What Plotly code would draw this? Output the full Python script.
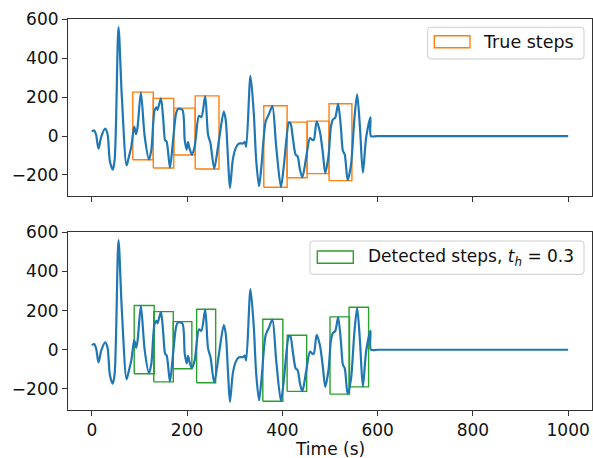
import plotly.graph_objects as go
from plotly.subplots import make_subplots

# Signal (time in s, amplitude)
time_s = [0, 5, 9, 14, 20, 28, 33, 38, 44, 48, 56, 63, 73, 78, 83, 89, 93, 96, 103, 111,
          120, 125, 132, 136, 138, 145, 150, 154, 157, 164, 170, 177, 181, 190, 195, 199,
          202, 205, 210, 216, 225, 230, 238, 244, 249, 257, 266, 277, 281, 286, 290, 296,
          302, 309, 317, 321, 324, 333, 340, 345, 351, 356, 365, 372, 379, 387, 397, 403,
          414, 417, 422, 428, 432, 437, 442, 450, 458, 463, 466, 472, 479, 485, 490, 497,
          502, 506, 511, 517, 523, 527, 531, 537, 544, 551, 557, 563, 569, 576, 585, 586,
          600, 1000]
signal = [24, 29, 7, -65, -2, 38, 10, -130, -173, -121, 560, 203, -151, -105, -53, 49, 10, 45, 224, -2,
          -120, -70, 135, 148, 135, 194, 84, -22, -28, -162, -36, 118, 140, 135, -19, -70,
          -31, -62, -94, -53, 104, 97, 205, 7, -36, -167, -36, 126, 84, -121, -267, -121,
          -62, -38, -38, -30, -55, 310, 118, -121, -258, -156, 75, 114, 154, -53, -262, -156,
          70, 67, -10, -96, -104, -173, -212, -110, -10, -20, -20, 76, 20, -87, -190, -100,
          49, 85, 95, 166, 40, -75, -95, -226, -150, 83, 214, 40, -188, -5, 97, 0,
          0, 0]

# True steps (top panel)
true_start = [86, 129, 172, 217, 361, 410, 452, 498]
true_end = [129, 172, 217, 267, 410, 452, 498, 546]
true_low = [-122, -164, -97, -169, -263, -214, -193, -229]
true_high = [226, 194, 144, 207, 156, 72, 77, 166]

# Detected steps (bottom panel)
det_start = [89, 130, 171, 220, 359, 410, 500, 540]
det_end = [131, 171, 210, 260, 401, 451, 541, 581]
det_low = [-123, -164, -97, -169, -263, -213, -227, -190]
det_high = [226, 195, 144, 207, 156, 74, 168, 217]

x_ticks = [0, 200, 400, 600, 800, 1000]
y_ticks = [-200, 0, 200, 400, 600]

true_label = "True steps"
det_label = "Detected steps, <i>t</i><sub><i>h</i></sub> = 0.3"
x_title = "Time (s)"

BLUE = "#1f77b4"
ORANGE = "#ff7f0e"
GREEN = "#2ca02c"
FONT = "DejaVu Sans"
FS = 17
TXT = "#111111"

W, H = 593, 458
ML, MR, MT, MB = 68, 1, 19, 48
PW, PH = W - ML - MR, H - MT - MB


def px(x):
    return (x - ML) / PW


def py(y):
    return (H - MB - y) / PH


def rect_path(starts, ends, lows, highs):
    xs, ys = [], []
    for s, e, lo, hi in zip(starts, ends, lows, highs):
        xs += [s, e, e, s, s, None]
        ys += [lo, lo, hi, hi, lo, None]
    return xs, ys


def rounded_box(x0, y0, x1, y1, r=3):
    rx, ry = r / PW, r / PH
    X0, X1 = px(x0), px(x1)
    Y0, Y1 = py(y1), py(y0)
    return (f"M {X0+rx},{Y0} L {X1-rx},{Y0} Q {X1},{Y0} {X1},{Y0+ry} "
            f"L {X1},{Y1-ry} Q {X1},{Y1} {X1-rx},{Y1} L {X0+rx},{Y1} "
            f"Q {X0},{Y1} {X0},{Y1-ry} L {X0},{Y0+ry} Q {X0},{Y0} {X0+rx},{Y0} Z")


fig = make_subplots(rows=2, cols=1, shared_xaxes=True, vertical_spacing=0.09)

rx_, ry_ = rect_path(true_start, true_end, true_low, true_high)
fig.add_trace(go.Scatter(x=rx_, y=ry_, mode="lines", line=dict(color=ORANGE, width=1.4),
                         showlegend=False, hoverinfo="skip"), row=1, col=1)
fig.add_trace(go.Scatter(x=time_s, y=signal, mode="lines",
                         line=dict(color=BLUE, width=2.2, shape="spline", smoothing=0.8),
                         showlegend=False), row=1, col=1)

dx_, dy_ = rect_path(det_start, det_end, det_low, det_high)
fig.add_trace(go.Scatter(x=dx_, y=dy_, mode="lines", line=dict(color=GREEN, width=1.4),
                         showlegend=False, hoverinfo="skip"), row=2, col=1)
fig.add_trace(go.Scatter(x=time_s, y=signal, mode="lines",
                         line=dict(color=BLUE, width=2.2, shape="spline", smoothing=0.8),
                         showlegend=False), row=2, col=1)

axis_common = dict(showgrid=False, zeroline=False, showline=True, linecolor="#333333",
                   linewidth=1.1, mirror=True, ticks="outside", ticklen=5, tickwidth=1.1,
                   tickcolor="#333333", automargin=False,
                   tickfont=dict(family=FONT, size=FS, color=TXT))

fig.update_xaxes(range=[-50, 1050], tickvals=x_ticks, **axis_common)
fig.update_yaxes(range=[-308, 602], tickvals=y_ticks, **axis_common)
fig.update_xaxes(showticklabels=False, row=1, col=1)

shapes = [
    dict(type="path", xref="paper", yref="paper", path=rounded_box(427.7, 27.3, 584, 59),
         line=dict(color="#cccccc", width=1), fillcolor="rgba(255,255,255,0.8)"),
    dict(type="rect", xref="paper", yref="paper", x0=px(434.3), x1=px(470), y0=py(47.7), y1=py(35.7),
         line=dict(color=ORANGE, width=1.4), fillcolor="rgba(0,0,0,0)"),
    dict(type="path", xref="paper", yref="paper", path=rounded_box(310, 241, 584, 274.3),
         line=dict(color="#cccccc", width=1), fillcolor="rgba(255,255,255,0.8)"),
    dict(type="rect", xref="paper", yref="paper", x0=px(317.3), x1=px(353.3), y0=py(263.3), y1=py(251),
         line=dict(color=GREEN, width=1.4), fillcolor="rgba(0,0,0,0)"),
]

annotations = [
    dict(text=true_label, xref="paper", yref="paper", x=px(481), y=py(42),
         xanchor="left", yanchor="middle", showarrow=False,
         font=dict(family=FONT, size=17.5, color=TXT)),
    dict(text=det_label, xref="paper", yref="paper", x=px(366), y=py(257.5),
         xanchor="left", yanchor="middle", showarrow=False,
         font=dict(family=FONT, size=FS, color=TXT)),
    dict(text=x_title, xref="paper", yref="paper", x=px(330), y=py(449),
         xanchor="center", yanchor="middle", showarrow=False,
         font=dict(family=FONT, size=FS, color=TXT)),
]

fig.update_layout(
    width=W, height=H,
    margin=dict(l=ML, r=MR, t=MT, b=MB),
    plot_bgcolor="white", paper_bgcolor="white",
    font=dict(family=FONT, size=FS, color=TXT),
    yaxis=dict(domain=[py(196), 1]),
    yaxis2=dict(domain=[0, py(232)]),
    shapes=shapes,
    annotations=annotations,
    showlegend=False,
)

fig.write_html("out.html", config={"displayModeBar": False},
               post_script="document.body.style.margin='0px';")
